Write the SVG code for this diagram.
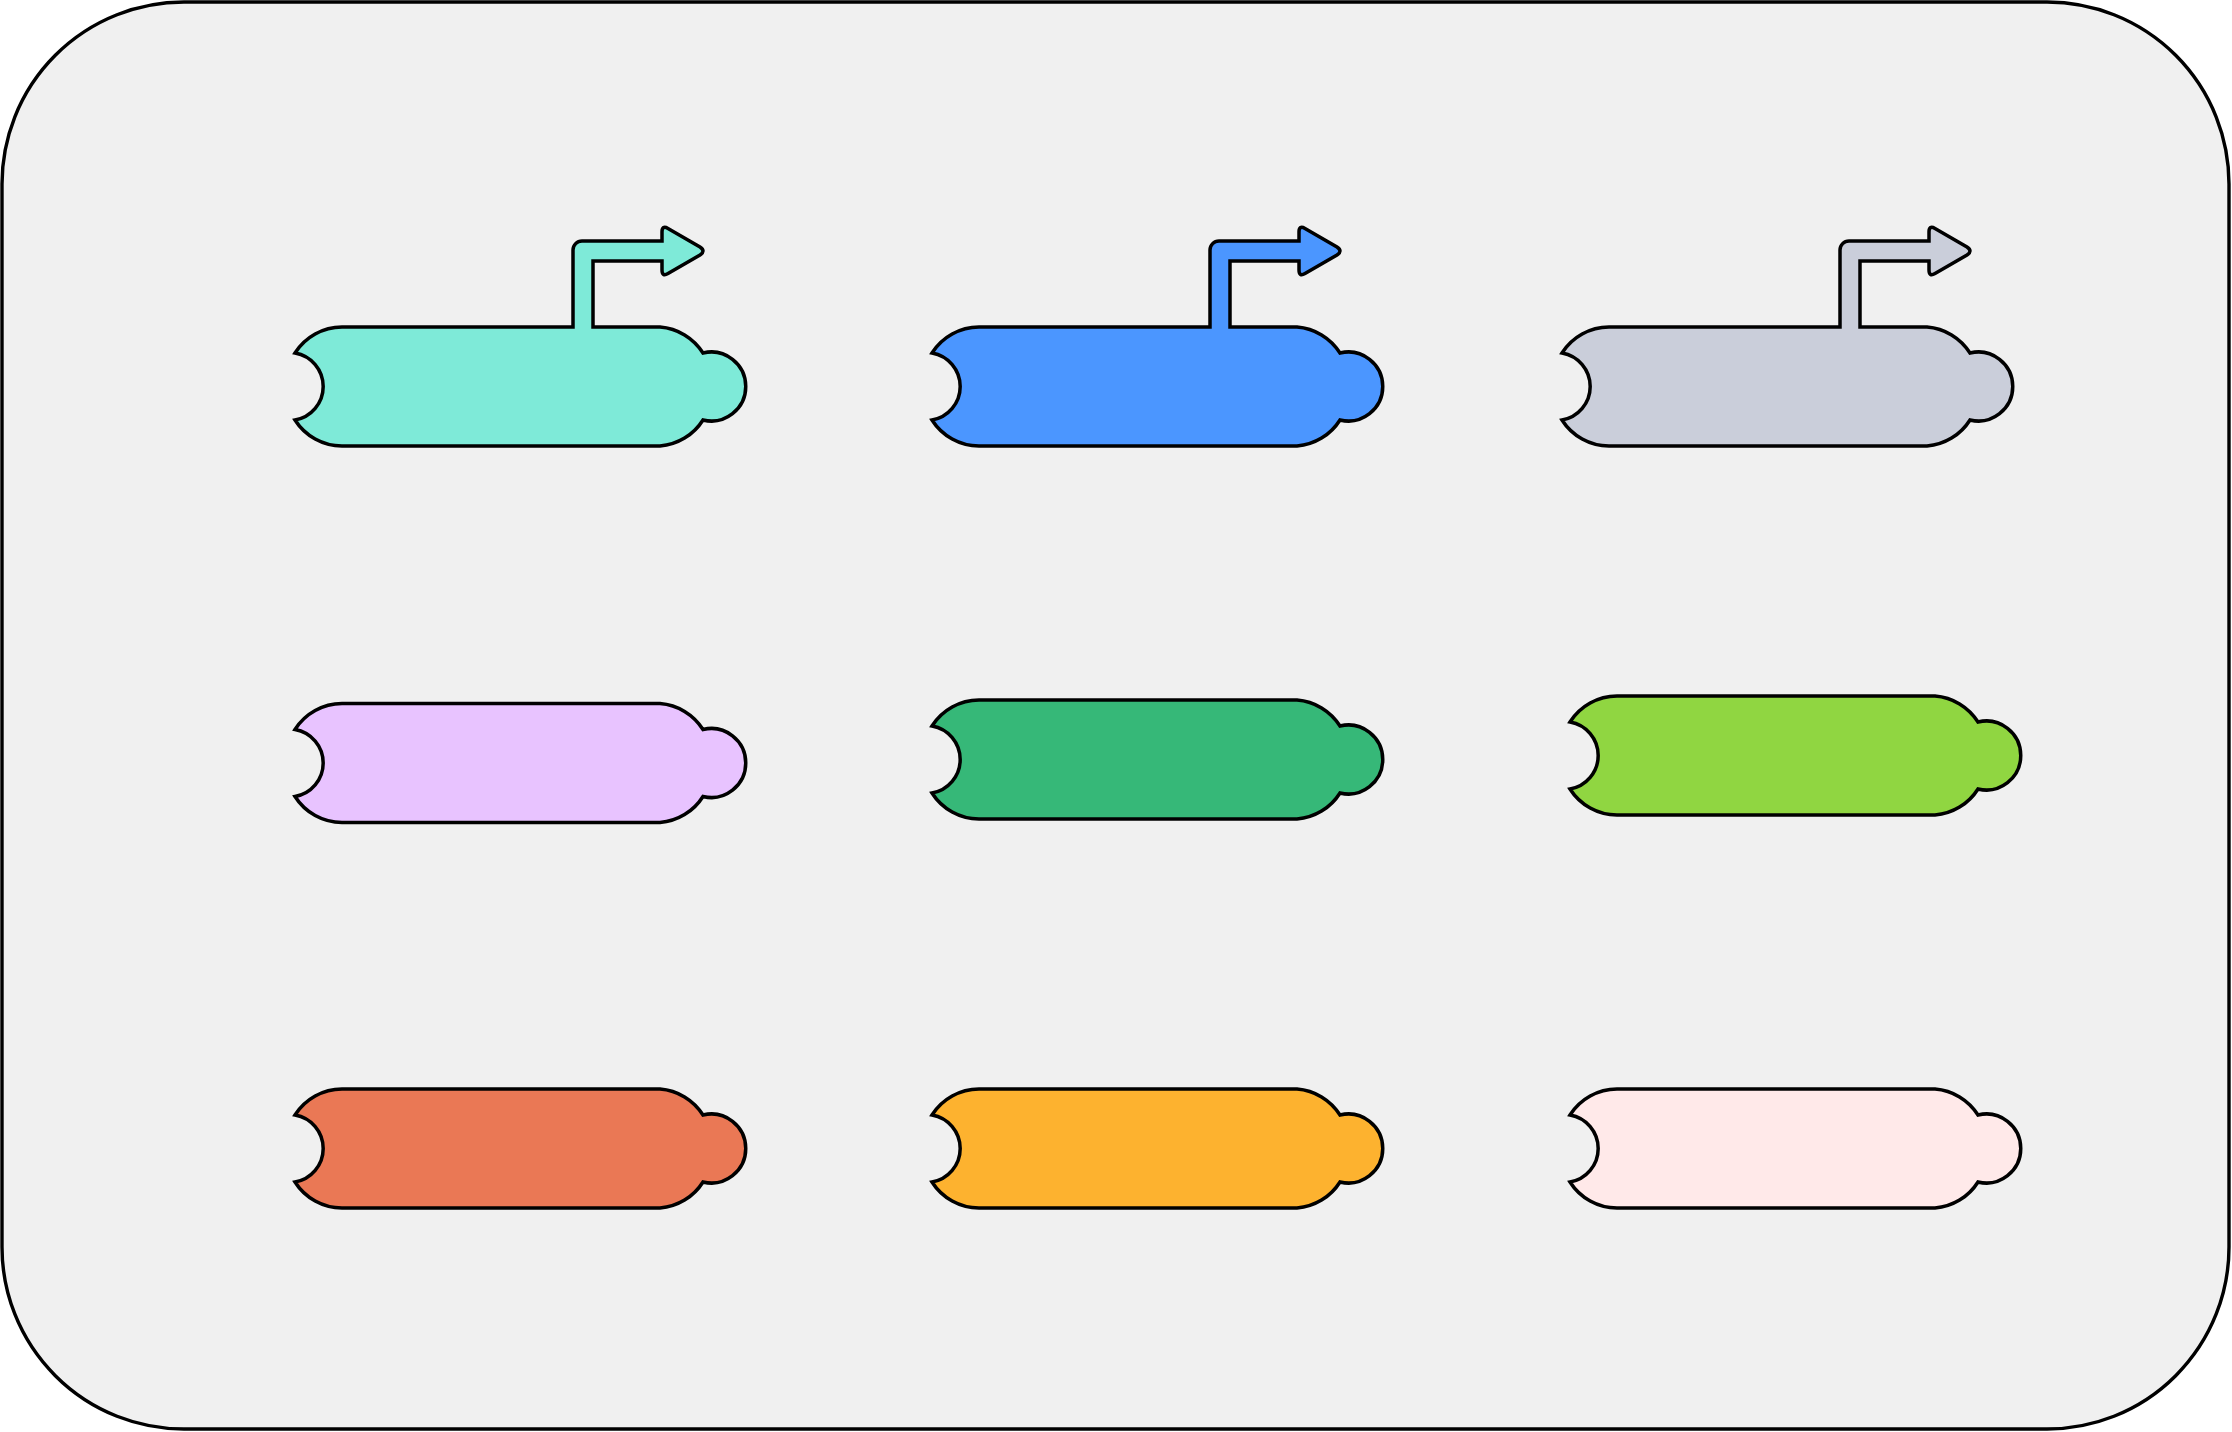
<svg xmlns="http://www.w3.org/2000/svg" xmlns:xlink="http://www.w3.org/1999/xlink" width="2232" height="1432" viewBox="0 0 2232 1432">
<style>
.frame{fill:#f0f0f0;stroke:#000;stroke-width:3.4}
.node{stroke:#000;stroke-width:3.5;stroke-linejoin:miter}
.c1{fill:#7EEAD8}.c2{fill:#4B96FF}.c3{fill:#CACEDA}
.c4{fill:#E8C3FF}.c5{fill:#36B878}.c6{fill:#90D641}
.c7{fill:#EA7855}.c8{fill:#FDB22F}.c9{fill:#FFE9E9}
</style>
<defs>
<path id="arrowShape" d="M47,0 H278 V-77 A9,9 0 0 1 287,-86 H367 V-95 Q367,-102 373,-98.5 L405,-80 Q411,-76 405,-72 L373,-53.5 Q367,-50 367,-57 V-66 H298 V0 H365 A56,56 0 0 1 408,26 A34.5,34.5 0 1 1 408,93 A56,56 0 0 1 365,119 H47 A56,56 0 0 1 0,93 A34,34 0 0 0 0,26 A56,56 0 0 1 47,0 Z"/>
<path id="plainShape" d="M47,0 H365 A56,56 0 0 1 408,26 A34.5,34.5 0 1 1 408,93 A56,56 0 0 1 365,119 H47 A56,56 0 0 1 0,93 A34,34 0 0 0 0,26 A56,56 0 0 1 47,0 Z"/>
</defs>
<rect class="frame" x="2" y="2" width="2227" height="1427" rx="182" ry="182"/>
<g id="connectors"></g>
<g id="node1"><use class="node c1" xlink:href="#arrowShape" href="#arrowShape" x="295" y="327"/></g>
<g id="node2"><use class="node c2" xlink:href="#arrowShape" href="#arrowShape" x="932" y="327"/></g>
<g id="node3"><use class="node c3" xlink:href="#arrowShape" href="#arrowShape" x="1562" y="327"/></g>
<g id="node4"><use class="node c4" xlink:href="#plainShape" href="#plainShape" x="295" y="703.5"/></g>
<g id="node5"><use class="node c5" xlink:href="#plainShape" href="#plainShape" x="932" y="700"/></g>
<g id="node6"><use class="node c6" xlink:href="#plainShape" href="#plainShape" x="1570" y="696"/></g>
<g id="node7"><use class="node c7" xlink:href="#plainShape" href="#plainShape" x="295" y="1089"/></g>
<g id="node8"><use class="node c8" xlink:href="#plainShape" href="#plainShape" x="932" y="1089"/></g>
<g id="node9"><use class="node c9" xlink:href="#plainShape" href="#plainShape" x="1570" y="1089"/></g>
</svg>
